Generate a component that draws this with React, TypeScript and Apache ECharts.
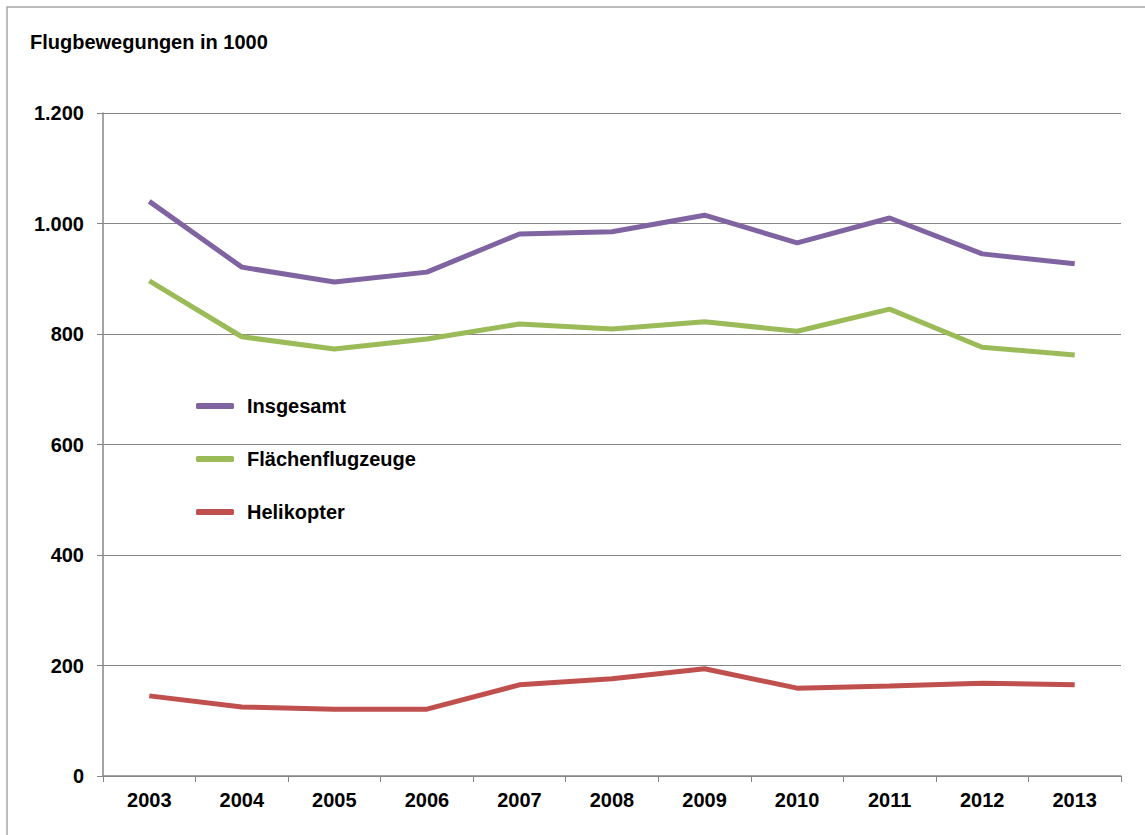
import React, { useEffect, useRef } from "react";
import * as echarts from "echarts";

const years = ["2003", "2004", "2005", "2006", "2007", "2008", "2009", "2010", "2011", "2012", "2013"];
const insgesamt = [1040, 921, 894, 912, 981, 985, 1015, 965, 1010, 945, 927];
const flaechen = [896, 795, 773, 791, 818, 809, 822, 805, 845, 776, 762];
const heli = [145, 125, 121, 121, 165, 176, 194, 159, 163, 168, 165];

const FONT = "'Liberation Sans', Arial, sans-serif";
const AX = "#868686";
const FS = 20;

export default function App() {
  const ref = useRef<HTMLDivElement>(null);
  useEffect(() => {
    document.body.style.margin = "0";
    const chart = echarts.init(ref.current!, undefined, { renderer: "svg" });
    const lineSeries = (name: string, data: number[], color: string) => ({
      name,
      type: "line",
      data,
      symbol: "none",
      lineStyle: { color, width: 5 },
      itemStyle: { color },
    });
    chart.setOption({
      animation: false,
      backgroundColor: "#ffffff",
      textStyle: { fontFamily: FONT },
      graphic: [
        {
          type: "rect",
          shape: { x: 7, y: 7, width: 1160, height: 860 },
          style: { fill: "none", stroke: "#a6a6a6", lineWidth: 1.5 },
          z: -10,
        },
        {
          type: "text",
          left: 30,
          top: 32,
          style: { text: "Flugbewegungen in 1000", font: `bold ${FS}px ${FONT}`, fill: "#000" },
        },
      ],
      legend: {
        orient: "vertical",
        left: 196,
        top: 395,
        padding: 0,
        itemWidth: 38,
        itemHeight: 6,
        itemGap: 31,
        icon: "roundRect",
        textStyle: { fontFamily: FONT, fontWeight: "bold", fontSize: FS, color: "#000", lineHeight: 22, padding: [0, 0, 0, 8] },
        data: ["Insgesamt", "Flächenflugzeuge", "Helikopter"],
      },
      grid: { left: 103, right: 24, top: 113, bottom: 59, containLabel: false },
      xAxis: {
        type: "category",
        data: years,
        boundaryGap: true,
        axisLine: { lineStyle: { color: AX, width: 1.5 } },
        axisTick: { show: true, length: 6, lineStyle: { color: AX }, alignWithLabel: false },
        axisLabel: { color: "#000", fontWeight: "bold", fontSize: FS, margin: 14, fontFamily: FONT },
      },
      yAxis: {
        type: "value",
        min: 0,
        max: 1200,
        interval: 200,
        axisLine: { show: true, lineStyle: { color: AX, width: 1.5 } },
        axisTick: { show: true, length: 6, lineStyle: { color: AX } },
        splitLine: { lineStyle: { color: AX, width: 1 } },
        axisLabel: {
          color: "#000",
          fontWeight: "bold",
          fontSize: FS,
          margin: 19,
          fontFamily: FONT,
          formatter: (v: number) => v.toString().replace(/\B(?=(\d{3})+(?!\d))/g, "."),
        },
      },
      series: [
        lineSeries("Insgesamt", insgesamt, "#8064A2"),
        lineSeries("Flächenflugzeuge", flaechen, "#9BBB59"),
        lineSeries("Helikopter", heli, "#C0504D"),
      ],
    });
    return () => chart.dispose();
  }, []);
  return <div ref={ref} style={{ width: 1145, height: 835 }} />;
}
